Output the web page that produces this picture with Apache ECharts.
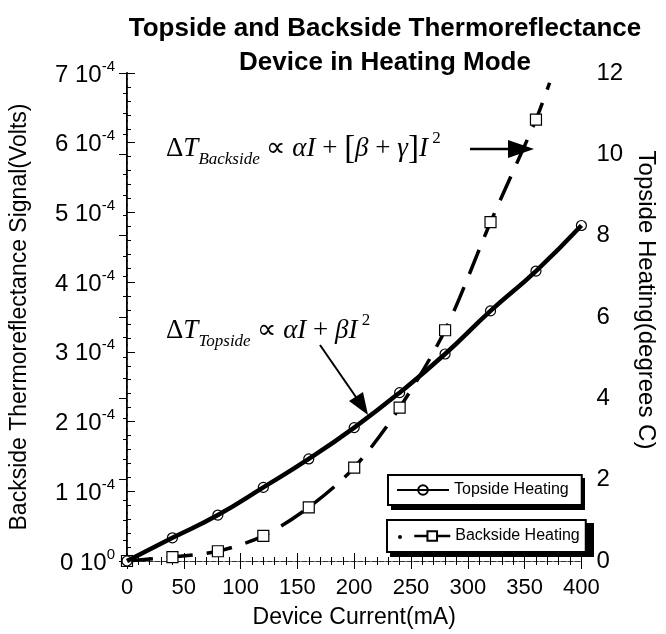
<!DOCTYPE html>
<html>
<head>
<meta charset="utf-8">
<script src="https://cdn.jsdelivr.net/npm/echarts@6/dist/echarts.min.js"></script>
<style>
  html, body { margin: 0; padding: 0; background: #fff; }
  #chart { width: 666px; height: 634px; }
</style>
</head>
<body>
<div id="chart"></div>
<script>
// Topside heating (right axis, degrees C)
const topsideCurrent = [0, 40, 80, 120, 160, 200, 240, 280, 320, 360, 400];
const topsideDeg = [0, 0.57, 1.13, 1.81, 2.51, 3.28, 4.14, 5.09, 6.15, 7.13, 8.25];

// Backside heating (left axis, volts)
const backsideCurrent = [0, 40, 80, 120, 160, 200, 240, 280, 320, 360];
const backsideVolts = [0, 0.057e-4, 0.14e-4, 0.36e-4, 0.77e-4, 1.34e-4, 2.20e-4, 3.31e-4, 4.86e-4, 6.33e-4];
// where the dashed fit stops, past the last square
const backsideFitEnd = [372, 6.86e-4];

const voltTickLabels = ['0 10^0', '1 10^-4', '2 10^-4', '3 10^-4', '4 10^-4', '5 10^-4', '6 10^-4', '7 10^-4'];

const FONT = '"Liberation Sans", Arial, sans-serif';
const SERIF = '"Liberation Serif", "Times New Roman", serif';

const chart = echarts.init(document.getElementById('chart'));

const topsideData = topsideCurrent.map((x, i) => [x, topsideDeg[i]]);
const backsideData = backsideCurrent.map((x, i) => [x, backsideVolts[i]]);
backsideData.push({ value: backsideFitEnd, symbol: 'none' });

const frameLine = { show: true, lineStyle: { color: '#333', width: 1, type: [5, 2] } };
const boxStyle = { backgroundColor: '#fff', borderColor: '#000', borderWidth: 2, borderRadius: 0 };

const mathRich = {
    d: { fontFamily: SERIF, fontSize: 27, fill: '#000', lineHeight: 38 },
    i: { fontFamily: SERIF, fontSize: 27, fontStyle: 'italic', fill: '#000', lineHeight: 38 },
    b: { fontFamily: SERIF, fontSize: 33, fill: '#000', lineHeight: 38 },
    sub: { fontFamily: SERIF, fontSize: 17, fontStyle: 'italic', fill: '#000', lineHeight: 38, verticalAlign: 'bottom' },
    sup: { fontFamily: SERIF, fontSize: 17, fill: '#000', lineHeight: 38, verticalAlign: 'top' }
};

chart.setOption({
    backgroundColor: '#fff',
    animation: false,
    title: {
        text: 'Topside and Backside Thermoreflectance\nDevice in Heating Mode',
        left: 380, top: 7, textAlign: 'center',
        textStyle: { fontFamily: FONT, fontSize: 26, fontWeight: 'bold', color: '#000', lineHeight: 34 }
    },
    grid: { left: 126, right: 70, top: 73, bottom: 73 },
    legend: [
        Object.assign({
            data: ['Topside Heating'],
            left: 388, top: 475,
            padding: [7, 13, 7, 8],
            itemWidth: 52, itemHeight: 12,
            textStyle: { fontFamily: FONT, fontSize: 16, color: '#000' }
        }, boxStyle),
        Object.assign({
            data: ['Backside Heating'],
            left: 387, top: 520,
            padding: [8, 6, 8, 26],
            itemWidth: 36, itemHeight: 12,
            lineStyle: { type: 'solid', width: 2.5 },
            textStyle: { fontFamily: FONT, fontSize: 16, color: '#000' }
        }, boxStyle)
    ],
    xAxis: [
        {
            type: 'value', min: 0, max: 400, interval: 50,
            name: 'Device Current(mA)', nameLocation: 'middle', nameGap: 45,
            nameTextStyle: { fontFamily: FONT, fontSize: 23, color: '#000' },
            axisLine: { show: true, onZero: false, lineStyle: { color: '#222', width: 1, type: [5, 2] } },
            axisTick: { show: true, inside: true, length: 8, lineStyle: { color: '#000' } },
            minorTick: { show: true, splitNumber: 5, length: 4, lineStyle: { color: '#000' } },
            axisLabel: { fontFamily: FONT, fontSize: 22, color: '#000', margin: 16 },
            splitLine: { show: false }
        },
        {
            type: 'value', min: 0, max: 400, interval: 50, position: 'top',
            axisLine: frameLine,
            axisTick: { show: true, inside: true, length: 8, lineStyle: { color: '#000' } },
            minorTick: { show: true, splitNumber: 5, length: 4, lineStyle: { color: '#000' } },
            axisLabel: { show: false },
            splitLine: { show: false }
        }
    ],
    yAxis: [
        {
            type: 'value', min: 0, max: 7e-4, interval: 1e-4, position: 'left',
            name: 'Backside Thermoreflectance Signal(Volts)', nameLocation: 'middle', nameGap: 96,
            nameTextStyle: { fontFamily: FONT, fontSize: 23, color: '#000' },
            axisLine: { show: true, onZero: false, lineStyle: { color: '#000', width: 2 } },
            axisTick: { show: true, inside: true, length: 8, lineStyle: { color: '#000' } },
            minorTick: { show: true, splitNumber: 5, length: 4, lineStyle: { color: '#000' } },
            axisLabel: {
                margin: 12,
                formatter: v => {
                    const parts = voltTickLabels[Math.round(v / 1e-4)].split('^');
                    return '{m|' + parts[0] + '}{e|' + parts[1] + '}';
                },
                rich: {
                    m: { fontFamily: FONT, fontSize: 24, color: '#000', lineHeight: 28, verticalAlign: 'bottom' },
                    e: { fontFamily: FONT, fontSize: 15, color: '#000', lineHeight: 28, verticalAlign: 'top' }
                }
            },
            splitLine: { show: false }
        },
        {
            type: 'value', min: 0, max: 12, interval: 2, position: 'right',
            name: 'Topside Heating(degrees C)', nameLocation: 'middle', nameGap: 45, nameRotate: -90,
            nameTextStyle: { fontFamily: FONT, fontSize: 24, color: '#000', padding: [0, 34, 0, 0] },
            axisLine: frameLine,
            axisTick: { show: true, inside: true, length: 8, lineStyle: { color: '#000' } },
            minorTick: { show: true, splitNumber: 4, length: 4, lineStyle: { color: '#000' } },
            axisLabel: { fontFamily: FONT, fontSize: 24, color: '#000', margin: 15 },
            splitLine: { show: false }
        }
    ],
    series: [
        {
            name: 'Topside Heating', type: 'line', xAxisIndex: 0, yAxisIndex: 1,
            data: topsideData, smooth: 0.5,
            symbol: 'circle', symbolSize: 10,
            lineStyle: { color: '#000', width: 4.5 },
            itemStyle: { color: 'rgba(255,255,255,0)', borderColor: '#000', borderWidth: 1.2 },
            z: 3
        },
        {
            name: 'Backside Heating', type: 'line', xAxisIndex: 0, yAxisIndex: 0,
            data: backsideData, smooth: 0.3,
            symbol: 'rect', symbolSize: 11,
            lineStyle: { color: '#000', width: 3.5, type: [26, 14] },
            itemStyle: { color: '#fff', borderColor: '#000', borderWidth: 1.2 },
            z: 2
        }
    ],
    graphic: [
        {
            type: 'text', left: 166, top: 130, z: 10,
            style: {
                text: '{d|Δ}{i|T}{sub|Backside}{d| ∝ }{i|αI}{d| + }{b|[}{i|β}{d| + }{i|γ}{b|]}{i|I}{sup| 2}',
                rich: mathRich
            }
        },
        {
            type: 'text', left: 166, top: 312, z: 10,
            style: {
                text: '{d|Δ}{i|T}{sub|Topside}{d| ∝ }{i|αI}{d| + }{i|βI}{sup| 2}',
                rich: mathRich
            }
        },
        // backside arrow
        { type: 'line', z: 10, shape: { x1: 470, y1: 149, x2: 512, y2: 149 }, style: { stroke: '#000', lineWidth: 2.5 } },
        { type: 'polygon', z: 10, shape: { points: [[534, 149], [508, 140], [508, 158]] }, style: { fill: '#000' } },
        // topside arrow
        { type: 'line', z: 10, shape: { x1: 320, y1: 345, x2: 358, y2: 400 }, style: { stroke: '#000', lineWidth: 2 } },
        { type: 'polygon', z: 10, shape: { points: [[368, 415], [349, 401], [363, 392]] }, style: { fill: '#000' } },
        // hard shadows behind the two legend boxes
        { type: 'rect', z: 3, shape: { x: 391, y: 478, width: 194, height: 32 }, style: { fill: '#000' } },
        { type: 'rect', z: 3, shape: { x: 390, y: 523, width: 204, height: 34 }, style: { fill: '#000' } },
        // stray dot in the backside legend box
        { type: 'circle', z: 200, shape: { cx: 400, cy: 537, r: 2 }, style: { fill: '#000' } }
    ]
});
</script>
</body>
</html>
